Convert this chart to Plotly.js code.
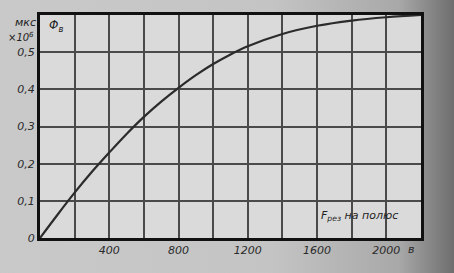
<!DOCTYPE html>
<html><head><meta charset="utf-8">
<script src="https://cdn.plot.ly/plotly-3.0.1.min.js"></script>
<style>
html,body{margin:0;padding:0;width:454px;height:273px;overflow:hidden;
background:linear-gradient(90deg,#c9c9c9 0%,#c4c4c4 60%,#a8a8a8 88%,#6e6e6e 100%);}
#chart{width:454px;height:273px;}
</style></head><body>
<div id="chart"></div>
<script>
// Data
const F_rez = [0, 100, 200, 300, 400, 500, 600, 700, 800, 900, 1000, 1100, 1200, 1400, 1600, 1800, 2000, 2200];
const Phi_v = [0, 0.062, 0.122, 0.178, 0.230, 0.280, 0.326, 0.367, 0.404, 0.438, 0.468, 0.494, 0.516, 0.549, 0.571, 0.585, 0.594, 0.600];
const xTickVals = [400, 800, 1200, 1600, 2000];
const xTickText = ['400', '800', '1200', '1600', '2000'];
const yTickVals = [0, 0.1, 0.2, 0.3, 0.4, 0.5];
const yTickText = ['0', '0,1', '0,2', '0,3', '0,4', '0,5'];

const tickFont = {family: 'DejaVu Sans', size: 11, color: '#2a2a2a', style: 'italic'};
const gridCol = '#4a4a4a';

const trace = {
  x: F_rez, y: Phi_v, type: 'scatter', mode: 'lines',
  line: {color: '#2b2b2b', width: 2.2, shape: 'spline', smoothing: 1},
  hoverinfo: 'skip'
};

const layout = {
  width: 454, height: 273,
  margin: {l: 40, r: 33, t: 15, b: 35},
  paper_bgcolor: 'rgba(0,0,0,0)',
  plot_bgcolor: '#dadada',
  showlegend: false,
  xaxis: {
    range: [0, 2200], tickvals: xTickVals, ticktext: xTickText,
    showgrid: true, gridcolor: gridCol, gridwidth: 2,
    minor: {dtick: 200, tick0: 0, showgrid: true, gridcolor: gridCol, gridwidth: 2},
    showline: true, linecolor: '#111', linewidth: 3, mirror: true,
    ticks: '', tickfont: tickFont, zeroline: false, fixedrange: true
  },
  yaxis: {
    range: [0, 0.6], tickvals: yTickVals, ticktext: yTickText,
    showgrid: true, gridcolor: gridCol, gridwidth: 2,
    minor: {dtick: 0.1, tick0: 0, showgrid: true, gridcolor: gridCol, gridwidth: 2},
    showline: true, linecolor: '#111', linewidth: 3, mirror: true,
    ticks: '', ticklen: 0, tickfont: tickFont, zeroline: false, fixedrange: true
  },
  annotations: [
    {xref: 'paper', yref: 'paper', x: -0.005, y: 0.965, xanchor: 'right', yanchor: 'middle',
     text: 'мкс', showarrow: false, font: {family: 'DejaVu Sans', size: 11, color: '#222', style: 'italic'}},
    {xref: 'paper', yref: 'paper', x: -0.01, y: 0.9, xanchor: 'right', yanchor: 'middle',
     text: '×10<sup>6</sup>', showarrow: false, font: {family: 'DejaVu Sans', size: 10, color: '#222', style: 'italic'}},
    {xref: 'paper', yref: 'paper', x: 0.018, y: 0.95, xanchor: 'left', yanchor: 'middle',
     text: 'Φ<sub>в</sub>', showarrow: false, font: {family: 'DejaVu Sans', size: 12, color: '#222', style: 'italic'}},
    {xref: 'x', yref: 'y', x: 1610, y: 0.058, xanchor: 'left', yanchor: 'middle',
     text: 'F<sub>рез</sub> на полюс', showarrow: false, font: {family: 'DejaVu Sans', size: 11, color: '#222', style: 'italic'}},
    {xref: 'x', yref: 'paper', x: 2145, y: -0.052, xanchor: 'center', yanchor: 'middle',
     text: 'в', showarrow: false, font: tickFont}
  ]
};

Plotly.newPlot('chart', [trace], layout, {staticPlot: true, displayModeBar: false});
</script>
</body></html>
